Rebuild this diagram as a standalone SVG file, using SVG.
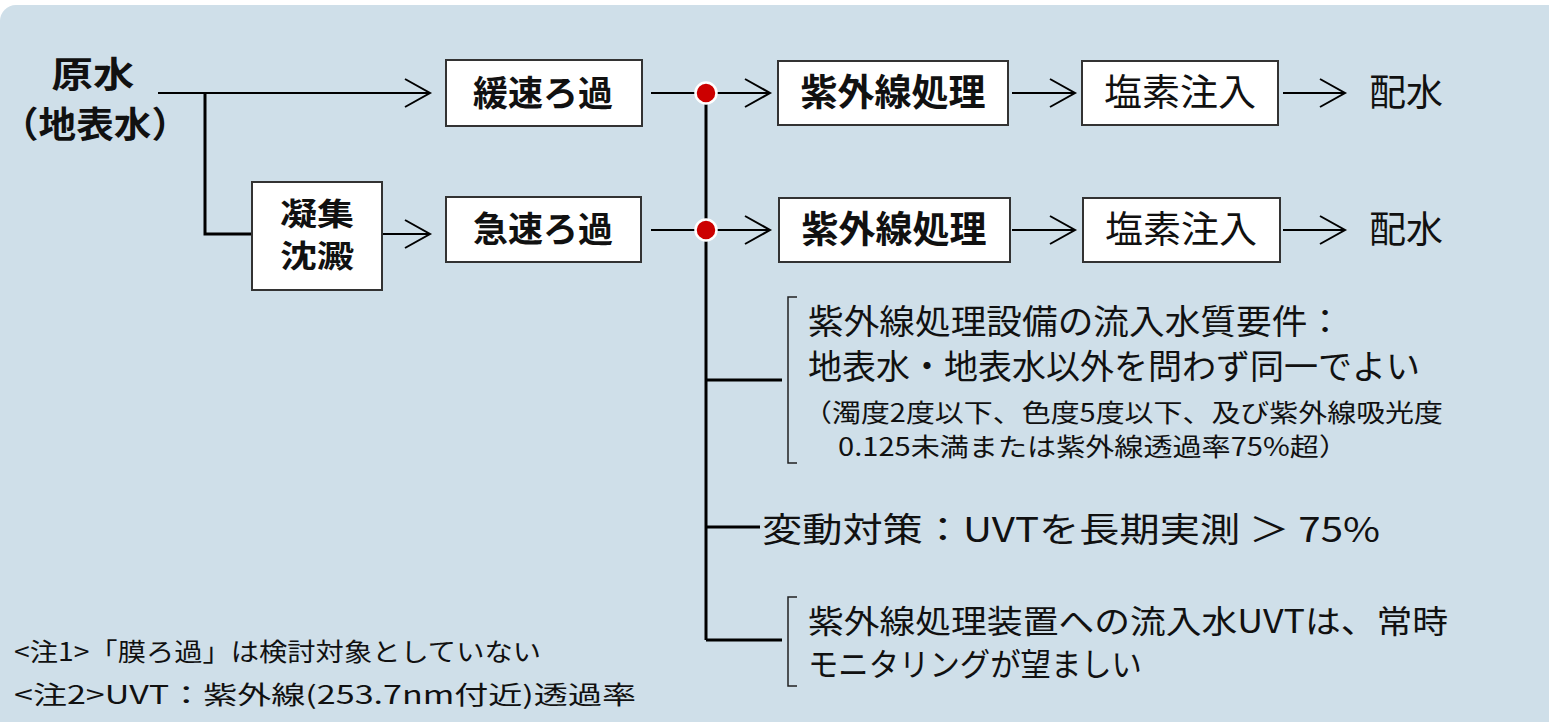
<svg xmlns="http://www.w3.org/2000/svg" width="1549" height="722" viewBox="0 0 1549 722">
<style>
text{font-family:"Noto Sans CJK JP","Noto Sans",sans-serif;fill:#111}
.b{font-weight:bold}
.box{fill:#fff;stroke:#333;stroke-width:2}
.ln{fill:none;stroke:#000;stroke-width:2}
.tr{fill:none;stroke:#000;stroke-width:3}
.br{fill:none;stroke:#222;stroke-width:1.5}
.m{text-anchor:middle}
</style>
<defs>
<marker id="chev" markerUnits="userSpaceOnUse" markerWidth="30" markerHeight="32" refX="26" refY="15" orient="auto">
<path d="M1,1 L26,15 L1,29" fill="none" stroke="#000" stroke-width="2"/>
</marker>
</defs>
<rect x="0" y="5" width="1580" height="760" rx="16" fill="#cfdfe9"/>
<g id="connectors">
<path class="ln" d="M158,93 H430" marker-end="url(#chev)"/>
<path class="tr" d="M205,93 V234 H252"/>
<path class="ln" d="M382,234 H430" marker-end="url(#chev)"/>
<path class="ln" d="M651,93 H770" marker-end="url(#chev)"/>
<path class="ln" d="M651,230 H770" marker-end="url(#chev)"/>
<path class="ln" d="M1012,93 H1075" marker-end="url(#chev)"/>
<path class="ln" d="M1012,230 H1075" marker-end="url(#chev)"/>
<path class="ln" d="M1283,93 H1345" marker-end="url(#chev)"/>
<path class="ln" d="M1283,230 H1345" marker-end="url(#chev)"/>
<path class="tr" d="M706,93 V640"/>
<path class="tr" d="M706,380 H782"/>
<path class="tr" d="M706,527 H760"/>
<path class="tr" d="M706,640 H782"/>
<path class="br" d="M797,297 H788 V463 H797"/>
<path class="br" d="M797,597 H788 V686 H797"/>
<circle cx="706" cy="93" r="10.5" fill="#cc0000" stroke="#fff" stroke-width="2.5"/>
<circle cx="706" cy="230" r="10.5" fill="#cc0000" stroke="#fff" stroke-width="2.5"/>
</g>
<g id="n-gensui">
<text class="b m" x="93" y="88" font-size="36" textLength="83" lengthAdjust="spacingAndGlyphs">原水</text>
<text class="b" x="1" y="138" font-size="36" textLength="188" lengthAdjust="spacingAndGlyphs">（地表水）</text>
</g>
<g id="n-gyoshu">
<rect class="box" x="252" y="182" width="130" height="108"/>
<text class="b m" x="317" y="225" font-size="31" textLength="74" lengthAdjust="spacingAndGlyphs">凝集</text>
<text class="b m" x="317" y="267" font-size="31" textLength="74" lengthAdjust="spacingAndGlyphs">沈澱</text>
</g>
<g id="n-kansoku">
<rect class="box" x="446" y="60" width="196" height="66"/>
<text class="b m" x="543" y="106" font-size="35">緩速ろ過</text>
</g>
<g id="n-kyusoku">
<rect class="box" x="446" y="197" width="195" height="65"/>
<text class="b m" x="543" y="242" font-size="35">急速ろ過</text>
</g>
<g id="n-uv1">
<rect class="box" x="778" y="61" width="230" height="64"/>
<text class="b m" x="893" y="106" font-size="37">紫外線処理</text>
</g>
<g id="n-uv2">
<rect class="box" x="779" y="198" width="231" height="64"/>
<text class="b m" x="894" y="243" font-size="37">紫外線処理</text>
</g>
<g id="n-cl1">
<rect class="box" x="1082" y="61" width="196" height="64"/>
<text class="m" x="1180" y="106" font-size="37" textLength="152" lengthAdjust="spacingAndGlyphs">塩素注入</text>
</g>
<g id="n-cl2">
<rect class="box" x="1083" y="198" width="197" height="64"/>
<text class="m" x="1181" y="243" font-size="37" textLength="152" lengthAdjust="spacingAndGlyphs">塩素注入</text>
</g>
<g id="n-haisui1"><text x="1369" y="106" font-size="37">配水</text></g>
<g id="n-haisui2"><text x="1369" y="243" font-size="37">配水</text></g>
<g id="n-req">
<text x="808" y="334" font-size="34" textLength="535" lengthAdjust="spacingAndGlyphs">紫外線処理設備の流入水質要件：</text>
<text x="808" y="379" font-size="34">地表水・地表水以外を問わず同一でよい</text>
<text x="803" y="422" font-size="25" textLength="640" lengthAdjust="spacingAndGlyphs">（濁度2度以下、色度5度以下、及び紫外線吸光度</text>
<text x="838" y="456" font-size="25" textLength="510" lengthAdjust="spacingAndGlyphs">0.125未満または紫外線透過率75%超）</text>
</g>
<g id="n-hendo">
<text x="762" y="542" font-size="34" textLength="618" lengthAdjust="spacingAndGlyphs">変動対策：UVTを長期実測 ＞ 75%</text>
</g>
<g id="n-monitor">
<text x="808" y="633" font-size="32" textLength="640" lengthAdjust="spacingAndGlyphs">紫外線処理装置への流入水UVTは、常時</text>
<text x="808" y="676" font-size="32" textLength="334" lengthAdjust="spacingAndGlyphs">モニタリングが望ましい</text>
</g>
<g id="notes">
<text x="14" y="661" font-size="25" textLength="527" lengthAdjust="spacingAndGlyphs">&lt;注1&gt;「膜ろ過」は検討対象としていない</text>
<text x="14" y="704" font-size="25" textLength="622" lengthAdjust="spacingAndGlyphs">&lt;注2&gt;UVT：紫外線(253.7nm付近)透過率</text>
</g>
</svg>
